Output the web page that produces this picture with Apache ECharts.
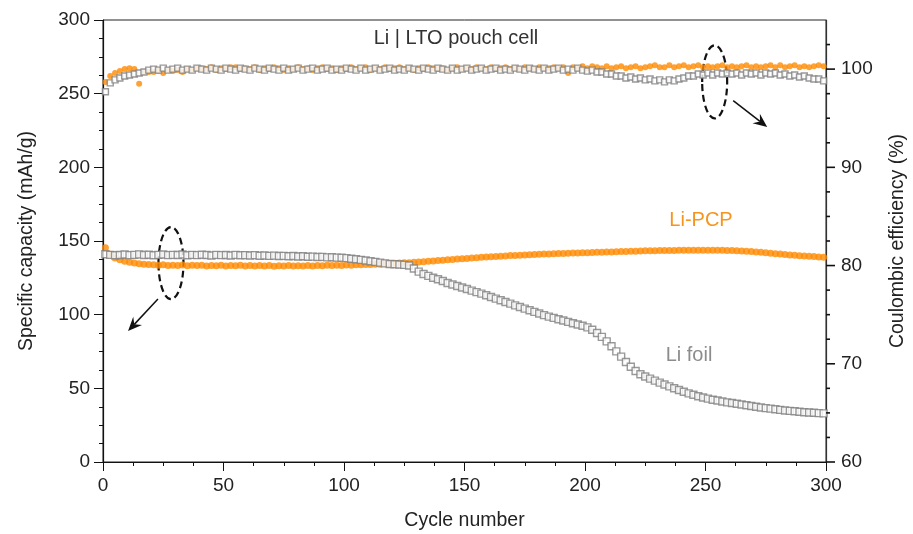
<!DOCTYPE html>
<html>
<head>
<meta charset="utf-8">
<script src="https://cdn.jsdelivr.net/npm/echarts@6/dist/echarts.min.js"></script>
<style>html,body{margin:0;padding:0;background:#fff}#main{width:913px;height:534px}</style>
</head>
<body>
<div id="main"></div>
<script>
// cycles 1,3,5,...,299 (every second cycle)
var firstCycle = 1, cycleStep = 2;

// specific capacity (mAh/g), left axis
var capFoil = [
    141.0, 140.6, 140.3, 140.5, 140.8, 140.4, 140.6, 140.9, 140.5, 140.7,
    140.3, 140.6, 140.8, 140.4, 140.6, 140.5, 140.8, 140.3, 140.6, 140.4,
    140.7, 140.5, 140.2, 140.6, 140.4, 140.5, 140.2, 140.6, 140.3, 140.4,
    140.2, 140.4, 140.0, 140.2, 139.9, 140.1, 139.8, 139.9, 139.6, 139.8,
    139.5, 139.6, 139.3, 139.4, 139.1, 139.2, 138.9, 139.0, 138.7, 138.6,
    138.4, 138.0, 137.6, 137.2, 136.8, 136.3, 135.8, 135.3, 134.8, 134.4,
    134.2, 134.0, 133.8, 133.4, 131.3, 129.2, 127.6, 126.3, 125.1, 124.0,
    122.8, 121.5, 120.5, 119.5, 118.4, 117.4, 116.3, 115.3, 114.3, 113.2,
    112.0, 110.9, 109.8, 108.6, 107.5, 106.3, 105.2, 104.1, 103.0, 101.9,
    100.8, 99.7, 98.7, 97.8, 96.9, 96.0, 95.1, 94.2, 93.3, 92.5,
    91.4, 89.8, 87.6, 84.9, 81.9, 78.6, 75.1, 71.5, 67.9, 64.6,
    61.8, 59.6, 58.0, 56.6, 55.2, 53.9, 52.6, 51.3, 50.1, 48.9,
    47.7, 46.6, 45.6, 44.6, 43.8, 43.0, 42.3, 41.7, 41.1, 40.5,
    40.0, 39.5, 39.0, 38.5, 38.0, 37.5, 37.0, 36.6, 36.2, 35.8,
    35.4, 35.0, 34.7, 34.4, 34.1, 33.8, 33.6, 33.4, 33.2, 33.0
];
var capPCP = [
    145.5, 141.0, 138.5, 137.2, 136.3, 135.6, 135.0, 134.6, 134.2, 134.0,
    133.8, 133.5, 133.9, 133.4, 133.6, 133.3, 133.7, 133.2, 133.5, 133.3,
    133.6, 133.1, 133.4, 133.2, 133.5, 133.0, 133.4, 133.2, 133.5, 133.1,
    133.3, 133.0, 133.4, 133.1, 133.3, 132.9, 133.2, 133.0, 133.4, 133.1,
    133.2, 133.0, 133.3, 133.1, 133.4, 133.2, 133.5, 133.3, 133.6, 133.4,
    133.7, 133.6, 133.9, 133.8, 134.1, 134.0, 134.3, 134.3, 134.6, 134.6,
    134.9, 135.0, 135.2, 135.3, 135.5, 135.7, 135.9, 136.2, 136.4, 136.7,
    136.9, 137.2, 137.4, 137.7, 137.9, 138.2, 138.4, 138.7, 138.9, 139.1,
    139.3, 139.5, 139.7, 139.9, 140.1, 140.2, 140.4, 140.5, 140.7, 140.8,
    141.0, 141.1, 141.2, 141.3, 141.5, 141.6, 141.7, 141.8, 141.9, 142.0,
    142.1, 142.2, 142.3, 142.4, 142.5, 142.6, 142.7, 142.8, 142.9, 143.0,
    143.1, 143.2, 143.3, 143.3, 143.4, 143.5, 143.5, 143.6, 143.6, 143.7,
    143.7, 143.7, 143.8, 143.8, 143.8, 143.8, 143.8, 143.7, 143.7, 143.6,
    143.5, 143.4, 143.2, 143.0, 142.8, 142.6, 142.3, 142.0, 141.7, 141.4,
    141.1, 140.8, 140.5, 140.3, 140.0, 139.8, 139.6, 139.4, 139.2, 139.0
];

// coulombic efficiency (%), right axis
var cePCP = [
    98.7, 99.3, 99.6, 99.8, 100.0, 100.1, 100.0, 98.5, 99.7, 99.7,
    99.7, 99.8, 99.6, 99.9, 99.8, 99.9, 99.7, 100.0, 99.9, 100.1,
    100.1, 100.0, 100.2, 99.9, 100.1, 100.0, 100.2, 100.2, 100.0, 100.1,
    100.0, 100.2, 99.9, 100.1, 100.0, 100.2, 100.1, 99.9, 100.1, 100.0,
    100.2, 100.0, 100.1, 99.9, 100.1, 100.2, 100.0, 100.1, 99.9, 100.1,
    100.0, 100.2, 100.0, 100.1, 100.2, 99.9, 100.1, 100.0, 100.2, 100.0,
    100.1, 100.2, 100.0, 100.1, 99.9, 100.1, 100.0, 100.2, 100.1, 100.0,
    100.1, 99.9, 100.1, 100.2, 100.0, 100.1, 100.0, 100.2, 100.1, 100.0,
    100.2, 100.0, 100.1, 100.2, 100.0, 100.1, 100.0, 100.2, 100.1, 100.0,
    100.2, 100.1, 100.1, 100.2, 100.1, 100.2, 99.6, 100.2, 100.1, 100.3,
    100.1, 100.3, 100.2, 100.1, 100.3, 100.1, 100.2, 100.3, 100.1, 100.2,
    100.3, 100.1, 100.2, 100.3, 100.4, 100.2, 100.2, 100.4, 100.2, 100.3,
    100.4, 100.2, 100.3, 100.4, 100.2, 100.3, 100.2, 100.3, 100.4, 100.2,
    100.3, 100.2, 100.3, 100.4, 100.2, 100.3, 100.2, 100.3, 100.4, 100.2,
    100.4, 100.2, 100.3, 100.4, 100.2, 100.3, 100.2, 100.3, 100.4, 100.3
];
var ceFoil = [
    97.7, 98.6, 98.9, 99.1, 99.3, 99.4, 99.5, 99.6, 99.7, 99.9,
    100.0, 99.9, 100.1, 99.9, 100.0, 100.1, 99.9, 100.0, 99.9, 100.1,
    100.0, 99.9, 100.1, 100.0, 99.9, 100.1, 100.0, 99.9, 100.1, 100.0,
    99.9, 100.1, 100.0, 99.9, 100.1, 100.0, 99.9, 100.1, 99.9, 100.0,
    100.1, 99.9, 100.0, 100.1, 99.9, 100.0, 100.1, 99.9, 100.0, 99.9,
    100.1, 100.0, 99.9, 100.1, 99.9, 100.0, 100.1, 99.9, 100.0, 100.1,
    99.9, 100.0, 99.9, 100.1, 100.0, 99.9, 100.1, 100.0, 99.9, 100.1,
    100.0, 99.9, 100.1, 99.9, 100.0, 100.1, 99.9, 100.0, 100.1, 99.9,
    100.0, 100.1, 99.9, 100.0, 99.9, 100.1, 100.0, 99.9, 100.1, 100.0,
    99.9, 100.1, 99.9, 100.0, 100.1, 99.9, 100.0, 99.9, 100.1, 99.9,
    99.8, 99.9, 99.7, 99.7, 99.5, 99.5, 99.3, 99.3, 99.1, 99.2,
    99.0, 99.1, 98.9, 99.0, 98.8, 98.9, 98.7, 98.9, 98.8, 99.0,
    99.1, 99.3, 99.3, 99.5, 99.4, 99.6, 99.4, 99.6, 99.5, 99.6,
    99.5, 99.6, 99.4, 99.6, 99.5, 99.6, 99.4, 99.6, 99.5, 99.6,
    99.4, 99.5, 99.3, 99.4, 99.2, 99.3, 99.1, 99.0, 99.0, 98.8
];
var ceMajorTicks = [60, 70, 80, 90, 100];
var ceMinorTicks = [62.5, 65, 67.5, 72.5, 75, 77.5, 82.5, 85, 87.5, 92.5, 95, 97.5, 102.5];

var orange = '#ff8a00';
var grey = '#808080';
var font = 'Liberation Sans, Arial, sans-serif';

function pairs(arr) {
    return arr.map(function (v, i) { return [firstCycle + i * cycleStep, v]; });
}

var chart = echarts.init(document.getElementById('main'));

var tickStyle = { color: '#222', fontSize: 19, fontFamily: font };
var nameStyle = { color: '#222', fontSize: 19.5, fontFamily: font };

var option = {
    animation: false,
    backgroundColor: '#fff',
    grid: {
        left: 103, right: 87, top: 20, bottom: 72,
        outerBoundsMode: 'none',
        show: true, borderColor: '#222', borderWidth: 1
    },
    xAxis: {
        type: 'value', min: 0, max: 300, interval: 50,
        name: 'Cycle number', nameLocation: 'middle', nameGap: 49,
        nameTextStyle: nameStyle,
        axisLine: { show: true, onZero: false, lineStyle: { color: '#111', width: 1.2 } },
        axisTick: { show: true, inside: false, length: 9, lineStyle: { color: '#111' } },
        minorTick: { show: true, splitNumber: 4, length: 4, lineStyle: { color: '#111' } },
        splitLine: { show: false },
        axisLabel: Object.assign({ margin: 14 }, tickStyle)
    },
    yAxis: [{
        type: 'value', min: 0, max: 300, interval: 50, position: 'left',
        name: 'Specific capacity (mAh/g)', nameLocation: 'middle', nameGap: 66,
        nameTextStyle: nameStyle,
        axisLine: { show: true, onZero: false, lineStyle: { color: '#111', width: 1.2 } },
        axisTick: { show: true, length: 9, lineStyle: { color: '#111' } },
        minorTick: { show: true, splitNumber: 4, length: 4, lineStyle: { color: '#111' } },
        splitLine: { show: false },
        axisLabel: Object.assign({ margin: 13 }, tickStyle)
    }, {
        type: 'value', min: 60, max: 105, interval: 10, position: 'right',
        name: 'Coulombic efficiency (%)', nameLocation: 'middle', nameGap: 62,
        nameTextStyle: nameStyle,
        axisLine: { show: true, onZero: false, lineStyle: { color: '#333', width: 1.2 } },
        axisTick: { show: false },
        splitLine: { show: false },
        axisLabel: Object.assign({
            margin: 15,
            formatter: function (v) { return ceMajorTicks.indexOf(v) >= 0 ? String(v) : ''; }
        }, tickStyle)
    }],
    series: [{
        name: 'Li-PCP capacity', type: 'scatter', yAxisIndex: 0,
        symbol: 'circle', symbolSize: 7,
        itemStyle: { color: orange },
        data: pairs(capPCP)
    }, {
        name: 'Li foil capacity', type: 'scatter', yAxisIndex: 0,
        symbol: 'rect', symbolSize: 7,
        itemStyle: { color: '#fff', borderColor: grey, borderWidth: 1.4 },
        data: pairs(capFoil)
    }, {
        name: 'Li-PCP CE', type: 'scatter', yAxisIndex: 1,
        symbol: 'circle', symbolSize: 6,
        itemStyle: { color: orange },
        data: pairs(cePCP)
    }, {
        name: 'Li foil CE', type: 'scatter', yAxisIndex: 1,
        symbol: 'rect', symbolSize: 6,
        itemStyle: { color: '#fff', borderColor: grey, borderWidth: 1.4 },
        data: pairs(ceFoil)
    }]
};
chart.setOption(option);

// annotations: dashed ellipses and arrows placed in data coordinates
function px(x, y, yi) {
    return chart.convertToPixel({ xAxisIndex: 0, yAxisIndex: yi }, [x, y]);
}
function arrow(p0, p1) {
    var dx = p1[0] - p0[0], dy = p1[1] - p0[1];
    var len = Math.sqrt(dx * dx + dy * dy);
    var ux = dx / len, uy = dy / len, hl = 14, hw = 6;
    var bx = p1[0] - ux * hl, by = p1[1] - uy * hl;
    var nx = p1[0] - ux * hl * 0.65, ny = p1[1] - uy * hl * 0.65;
    return [{
        type: 'line',
        shape: { x1: p0[0], y1: p0[1], x2: nx, y2: ny },
        style: { stroke: '#111', lineWidth: 1.5 }
    }, {
        type: 'polygon',
        shape: { points: [p1, [bx - uy * hw, by + ux * hw], [nx, ny], [bx + uy * hw, by - ux * hw]] },
        style: { fill: '#111' }
    }];
}
function ellipse(c, rx, ry) {
    return {
        type: 'ellipse',
        shape: { cx: c[0], cy: c[1], rx: rx, ry: ry },
        style: { fill: null, stroke: '#111', lineWidth: 2.2, lineDash: [7, 4] }
    };
}
function label(text, x, y, color) {
    return {
        type: 'text',
        style: { text: text, x: x, y: y, fill: color, fontSize: 20, fontFamily: font, align: 'center', verticalAlign: 'middle' }
    };
}
function tick(v, len) {
    var p = px(300, v, 1);
    return {
        type: 'line', z: 100,
        shape: { x1: p[0], y1: p[1], x2: p[0] + len, y2: p[1] },
        style: { stroke: '#111', lineWidth: 1.6 }
    };
}

var graphics = [];
// right axis ticks (major every 10 %, minor every 2.5 %)
ceMajorTicks.forEach(function (v) { graphics.push(tick(v, 9)); });
ceMinorTicks.forEach(function (v) { graphics.push(tick(v, 4)); });
graphics.push(ellipse(px(28.2, 135, 0), 12.5, 36));
graphics = graphics.concat(arrow(px(22.8, 110.6, 0), px(10.4, 88.9, 0)));
graphics.push(ellipse(px(253.8, 98.7, 1), 12.5, 36.5));
graphics = graphics.concat(arrow(px(261.5, 96.8, 1), px(275.6, 94.1, 1)));
graphics.push(label('Li | LTO pouch cell', 456, 38, '#333'));
graphics.push(label('Li-PCP', 701, 220, '#f7941d'));
graphics.push(label('Li foil', 689, 355, '#8c8c8c'));

chart.setOption({ graphic: graphics });
</script>
</body>
</html>
